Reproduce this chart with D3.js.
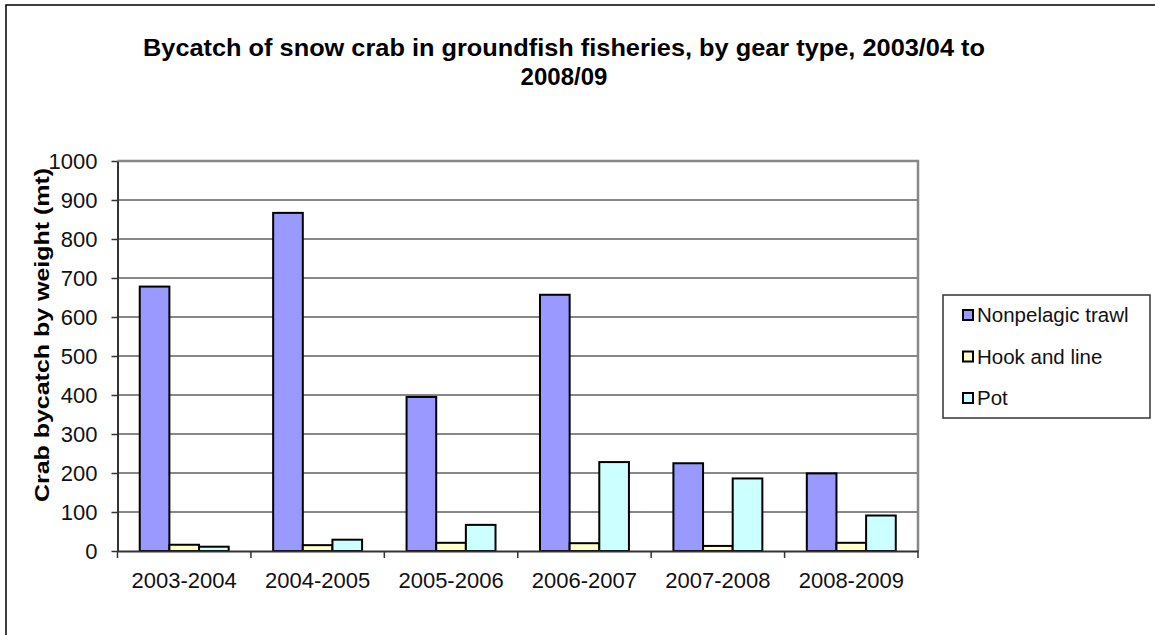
<!DOCTYPE html>
<html>
<head>
<meta charset="utf-8">
<script src="https://cdn.jsdelivr.net/npm/d3@7"></script>
<style>
  html, body { margin: 0; padding: 0; background: #fff; }
  svg { display: block; font-family: "Liberation Sans", Arial, sans-serif; }
</style>
</head>
<body>
<svg id="chart" width="1155" height="635"></svg>
<script>
const categories = ["2003-2004", "2004-2005", "2005-2006", "2006-2007", "2007-2008", "2008-2009"];
const seriesNames = ["Nonpelagic trawl", "Hook and line", "Pot"];
const trawl = [678, 867, 395, 657, 225, 199];
const hookLine = [16, 15, 21, 20, 13, 21];
const pot = [11, 29, 67, 228, 186, 91];
const yTicks = [0, 100, 200, 300, 400, 500, 600, 700, 800, 900, 1000];
const colors = ["#9999FF", "#FFFFCC", "#CCFFFF"];
const titleLines = ["Bycatch of snow crab in groundfish fisheries, by gear type, 2003/04 to", "2008/09"];
const yTitle = "Crab bycatch by weight  (mt)";

const seriesValues = [trawl, hookLine, pot];
const FONT = "'Liberation Sans', Arial, sans-serif";

const svg = d3.select("#chart");
const plot = { left: 117.5, right: 918, top: 161, bottom: 551 };

// outer frame
svg.append("rect").attr("x", 6).attr("y", 5).attr("width", 1300).attr("height", 800)
  .attr("fill", "none").attr("stroke", "#000").attr("stroke-width", 1.5);

const y = d3.scaleLinear().domain([0, 1000]).range([plot.bottom, plot.top]);
const x0 = d3.scaleBand().domain(categories).range([plot.left, plot.right]).padding(0);
const x1 = d3.scaleBand().domain(seriesNames).range([0, x0.bandwidth()]).paddingInner(0).paddingOuter(0.75);

// gridlines
svg.append("g").selectAll("line").data(yTicks.filter(t => t > 0 && t < 1000)).join("line")
  .attr("x1", plot.left).attr("x2", plot.right)
  .attr("y1", d => y(d)).attr("y2", d => y(d))
  .attr("stroke", "#111").attr("stroke-width", 1);

// plot border (top and right grey)
svg.append("path")
  .attr("d", `M${plot.left},${y(1000)}H${plot.right}V${plot.bottom}`)
  .attr("fill", "none").attr("stroke", "#888").attr("stroke-width", 2.5);

// bars
const groups = svg.append("g").selectAll("g").data(categories).join("g")
  .attr("transform", d => `translate(${x0(d)},0)`);
groups.selectAll("rect")
  .data((c, i) => seriesNames.map((s, j) => ({ s, j, v: seriesValues[j][i] })))
  .join("rect")
  .attr("x", d => x1(d.s))
  .attr("y", d => y(d.v))
  .attr("width", x1.bandwidth())
  .attr("height", d => y(0) - y(d.v))
  .attr("fill", d => colors[d.j])
  .attr("stroke", "#000").attr("stroke-width", 2);

// y axis
const yAxis = svg.append("g").attr("transform", `translate(${plot.left},0)`)
  .call(d3.axisLeft(y).tickValues(yTicks).tickFormat(d3.format("d")).tickSize(6).tickPadding(14).tickSizeOuter(0));
yAxis.select(".domain").attr("stroke", "#333").attr("stroke-width", 2);
yAxis.selectAll(".tick line").attr("stroke", "#333").attr("stroke-width", 1.5);
yAxis.selectAll(".tick text").attr("font-size", 22).attr("fill", "#111").attr("font-family", FONT);

// x axis
const xAxis = svg.append("g").attr("transform", `translate(0,${plot.bottom})`)
  .call(d3.axisBottom(x0).tickSize(0).tickPadding(21).tickSizeOuter(0));
xAxis.select(".domain").attr("stroke", "#333").attr("stroke-width", 2);
xAxis.selectAll(".tick text").attr("font-size", 22).attr("fill", "#111").attr("font-family", FONT);
const bounds = categories.map(c => x0(c)).concat([x0(categories[categories.length - 1]) + x0.bandwidth()]);
xAxis.append("g").selectAll("line").data(bounds).join("line")
  .attr("x1", d => d).attr("x2", d => d).attr("y1", 0).attr("y2", 7)
  .attr("stroke", "#333").attr("stroke-width", 1.5);

// title
svg.append("g").selectAll("text").data(titleLines).join("text")
  .attr("x", 564).attr("y", (d, i) => 56 + i * 29)
  .attr("text-anchor", "middle")
  .attr("font-size", 24).attr("font-weight", "bold").attr("fill", "#000")
  .attr("textLength", (d, i) => i === 0 ? 842 : null)
  .attr("lengthAdjust", "spacingAndGlyphs")
  .text(d => d);

// y axis title
svg.append("text")
  .attr("transform", "translate(49,335) rotate(-90)")
  .attr("text-anchor", "middle")
  .attr("font-size", 21).attr("font-weight", "bold").attr("fill", "#000")
  .attr("textLength", 334).attr("lengthAdjust", "spacingAndGlyphs")
  .text(yTitle);

// legend
const legend = svg.append("g");
legend.append("rect").attr("x", 943).attr("y", 295).attr("width", 207).attr("height", 123)
  .attr("fill", "#fff").attr("stroke", "#333").attr("stroke-width", 1.5);
const items = legend.selectAll("g.item").data(seriesNames).join("g").attr("class", "item")
  .attr("transform", (d, i) => `translate(963,${315 + i * 41.5})`);
items.append("rect").attr("x", 0).attr("y", -5).attr("width", 10).attr("height", 10)
  .attr("fill", (d, i) => colors[i]).attr("stroke", "#000").attr("stroke-width", 2);
items.append("text").attr("x", 14).attr("y", 0).attr("dy", "0.35em")
  .attr("font-size", 20.5).attr("fill", "#111").text(d => d);
</script>
</body>
</html>
